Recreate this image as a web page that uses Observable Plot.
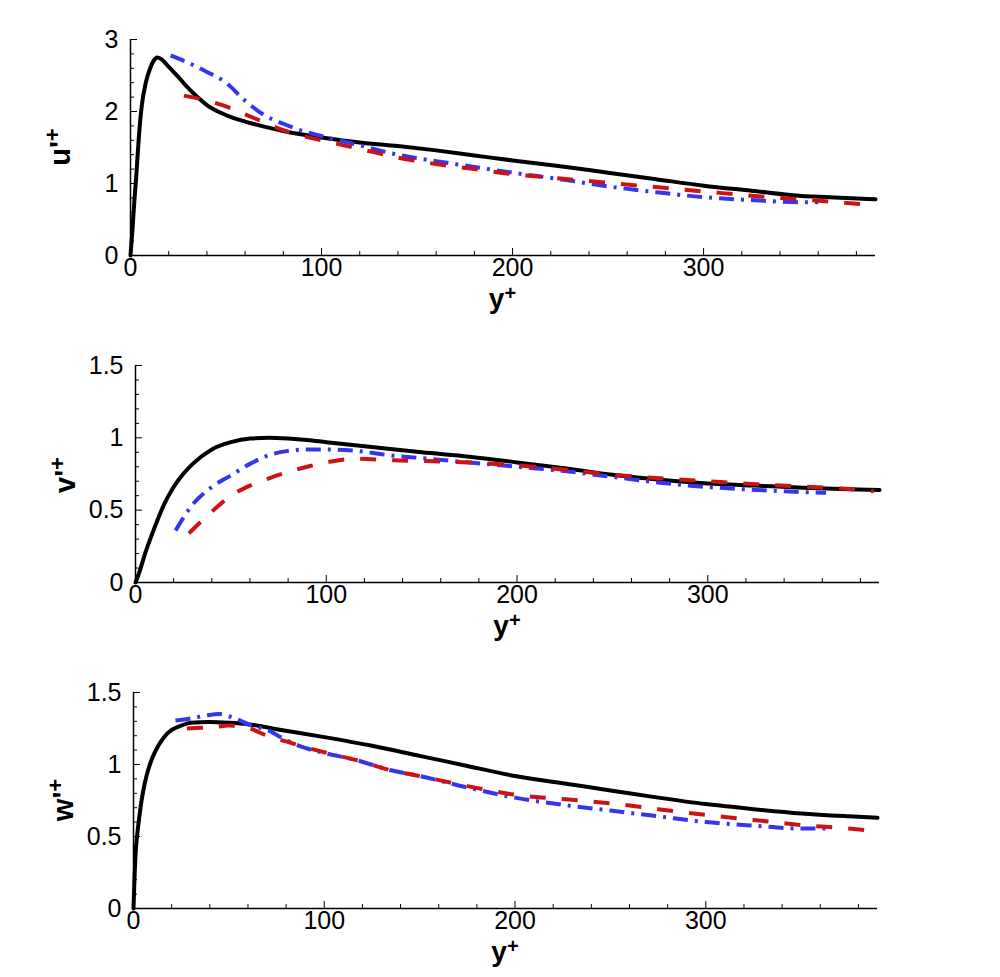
<!DOCTYPE html>
<html>
<head>
<meta charset="utf-8">
<script src="https://cdn.jsdelivr.net/npm/d3@7"></script>
<script src="https://cdn.jsdelivr.net/npm/@observablehq/plot@0.6"></script>
<style>
  html, body { margin: 0; padding: 0; background: #fff; }
  #chart { width: 1000px; height: 977px; }
  #chart svg { display: block; }
</style>
</head>
<body>
<div id="chart"></div>
<script>
// ---------- Data ----------
// Panel 1: u'+
const uBlackX = [0,1,2,3,4,5,6,8,10,12,14,16,20,25,30,35,40,50,60,70,80,90,100,120,140,160,180,200,225,250,275,300,325,350,375,390];
const uBlackY = [0,0.35,0.75,1.1,1.5,1.85,2.1,2.4,2.58,2.7,2.75,2.73,2.62,2.48,2.33,2.2,2.09,1.95,1.86,1.79,1.73,1.68,1.64,1.57,1.52,1.46,1.39,1.32,1.24,1.15,1.06,0.97,0.9,0.83,0.8,0.78];
const uBlueX = [21,30,40,50,60,70,80,90,100,120,140,160,180,200,225,250,275,300,325,350,360];
const uBlueY = [2.78,2.68,2.55,2.4,2.15,1.95,1.83,1.73,1.66,1.53,1.4,1.31,1.23,1.15,1.06,0.96,0.88,0.81,0.77,0.74,0.74];
const uRedX = [28,40,50,60,70,80,90,100,120,140,160,180,200,225,250,275,300,325,350,375,388];
const uRedY = [2.22,2.15,2.07,1.96,1.85,1.74,1.66,1.6,1.48,1.36,1.27,1.2,1.13,1.07,1.01,0.95,0.89,0.83,0.78,0.73,0.70];

// Panel 2: v'+
const vBlackX = [0,2,5,8,10,15,20,25,30,40,50,60,70,80,90,100,125,150,175,200,225,250,275,300,325,350,375,390];
const vBlackY = [0,0.07,0.2,0.31,0.38,0.54,0.66,0.75,0.82,0.92,0.97,0.995,1.0,0.995,0.985,0.97,0.935,0.9,0.87,0.83,0.79,0.745,0.71,0.685,0.67,0.655,0.645,0.64];
const vBlueX = [21,30,40,50,60,70,80,90,100,116,133,150,175,200,225,250,275,300,325,350,362];
const vBlueY = [0.36,0.54,0.66,0.74,0.82,0.88,0.91,0.92,0.92,0.91,0.88,0.86,0.83,0.8,0.77,0.73,0.69,0.66,0.64,0.625,0.62];
const vRedX = [28,40,50,60,70,80,90,100,116,133,150,175,200,225,250,275,300,325,350,375,387];
const vRedY = [0.34,0.49,0.6,0.67,0.72,0.765,0.8,0.83,0.855,0.845,0.84,0.83,0.81,0.78,0.745,0.72,0.70,0.68,0.663,0.645,0.63];

// Panel 3: w'+
const wBlackX = [0,0.5,1,2,3,4,5,7,10,13,16,20,25,30,40,50,60,75,100,125,150,175,200,225,250,275,300,325,350,375,390];
const wBlackY = [0,0.2,0.36,0.52,0.63,0.73,0.81,0.93,1.05,1.13,1.19,1.24,1.27,1.29,1.295,1.29,1.28,1.245,1.19,1.13,1.06,0.99,0.92,0.87,0.82,0.77,0.725,0.69,0.66,0.64,0.63];
const wBlueX = [22,30,38,45,50,55,60,70,80,90,100,117,135,150,175,200,225,250,275,300,325,350,365];
const wBlueY = [1.305,1.32,1.34,1.35,1.335,1.31,1.28,1.24,1.17,1.115,1.08,1.03,0.96,0.92,0.84,0.77,0.72,0.68,0.64,0.60,0.575,0.555,0.555];
const wRedX = [28,35,42,50,56,61,70,80,90,100,117,135,150,175,200,225,250,275,300,325,350,375,387];
const wRedY = [1.25,1.255,1.26,1.27,1.265,1.25,1.2,1.16,1.12,1.085,1.03,0.96,0.92,0.85,0.79,0.76,0.73,0.69,0.65,0.615,0.58,0.555,0.54];

// Axis ticks
const xMajor = [0,100,200,300];
const xMinor = [20,40,60,80,120,140,160,180,220,240,260,280,320,340,360,380];
const uMajor = [0,1,2,3];
const uMinor = [0.2,0.4,0.6,0.8,1.2,1.4,1.6,1.8,2.2,2.4,2.6,2.8];
const vwMajor = [0,0.5,1,1.5];
const vwMinor = [0.1,0.2,0.3,0.4,0.6,0.7,0.8,0.9,1.1,1.2,1.3,1.4];
const xDomain = [0,390];

const BLUE = "#3535ee";
const RED = "#cc1212";
const FONT = "'Liberation Sans', Arial, sans-serif";

const pts = (xs, ys) => xs.map((x, i) => ({x, y: ys[i]}));

function panel({blackX, blackY, blueX, blueY, redX, redY, yDomain, yMajor, yMinor, height, mt, mb, ml, mr, varName, labelX, labelY, yPlusDy}) {
  const width = 1000;
  const innerH = height - mt - mb;
  const innerW = width - ml - mr;
  const svg = Plot.plot({
    width, height,
    marginTop: mt, marginBottom: mb, marginLeft: ml, marginRight: mr,
    style: {fontFamily: FONT, fontSize: "25px", color: "#000", background: "#fff", overflow: "visible"},
    x: {domain: xDomain},
    y: {domain: yDomain},
    marks: [
      Plot.axisX({ticks: xMajor, tickSize: 0, tickPadding: 3, fontSize: 25, label: null, tickFormat: d => `${d}`, fill: "#000"}),
      Plot.axisY({ticks: yMajor, tickSize: 0, tickPadding: 12, fontSize: 25, label: null, tickFormat: d => `${d}`, fill: "#000"}),
      // inward minor/major ticks
      Plot.tickX(xMinor, {x: d => d, insetTop: innerH - 4, stroke: "#000", strokeWidth: 1}),
      Plot.tickX(xMajor, {x: d => d, insetTop: innerH - 7, stroke: "#000", strokeWidth: 1}),
      Plot.tickY(yMinor, {y: d => d, insetRight: innerW - 4, stroke: "#000", strokeWidth: 1}),
      Plot.tickY(yMajor, {y: d => d, insetRight: innerW - 7, stroke: "#000", strokeWidth: 1}),
      Plot.ruleY([yDomain[0]], {stroke: "#000", strokeWidth: 1.5}),
      Plot.ruleX([xDomain[0]], {stroke: "#000", strokeWidth: 1.5}),
      Plot.line(pts(blackX, blackY), {x: "x", y: "y", stroke: "#000", strokeWidth: 4, curve: "monotone-x"}),
      Plot.line(pts(blueX, blueY), {x: "x", y: "y", stroke: BLUE, strokeWidth: 4, strokeDasharray: "15,7,3,7", strokeLinecap: "butt", curve: "monotone-x"}),
      Plot.line(pts(redX, redY), {x: "x", y: "y", stroke: RED, strokeWidth: 4, strokeDasharray: "16,16", strokeLinecap: "butt", curve: "monotone-x"})
    ]
  });
  const s = d3.select(svg);
  // vertical axis title  e.g. u'+
  const t = s.append("text")
    .attr("transform", `translate(${labelX},${labelY}) rotate(-90)`)
    .attr("text-anchor", "middle")
    .style("font-family", FONT).style("font-weight", "bold").style("font-size", "29px").attr("fill", "#000");
  t.append("tspan").text(varName + "'");
  t.append("tspan").attr("dy", "-0.45em").style("font-size", "22px").text("+");
  // horizontal axis title y+
  const t2 = s.append("text")
    .attr("x", ml + innerW / 2).attr("y", height - mb + yPlusDy)
    .attr("text-anchor", "middle")
    .style("font-family", FONT).style("font-weight", "bold").style("font-size", "28px").attr("fill", "#000");
  t2.append("tspan").text("y");
  t2.append("tspan").attr("dy", "-0.4em").style("font-size", "20px").text("+");
  return svg;
}

const chart = document.getElementById("chart");
chart.append(panel({blackX: uBlackX, blackY: uBlackY, blueX: uBlueX, blueY: uBlueY, redX: uRedX, redY: uRedY,
  yDomain: [0,3], yMajor: uMajor, yMinor: uMinor, height: 325, mt: 39, mb: 70, ml: 130, mr: 125,
  varName: "u", labelX: 70, labelY: 147, yPlusDy: 53}));
chart.append(panel({blackX: vBlackX, blackY: vBlackY, blueX: vBlueX, blueY: vBlueY, redX: vRedX, redY: vRedY,
  yDomain: [0,1.5], yMajor: vwMajor, yMinor: vwMinor, height: 325, mt: 40, mb: 68, ml: 135, mr: 121,
  varName: "v", labelX: 75, labelY: 150, yPlusDy: 53}));
chart.append(panel({blackX: wBlackX, blackY: wBlackY, blueX: wBlueX, blueY: wBlueY, redX: wRedX, redY: wRedY,
  yDomain: [0,1.5], yMajor: vwMajor, yMinor: vwMinor, height: 327, mt: 42, mb: 69, ml: 133, mr: 123,
  varName: "w", labelX: 73, labelY: 150, yPlusDy: 53}));
</script>
</body>
</html>
